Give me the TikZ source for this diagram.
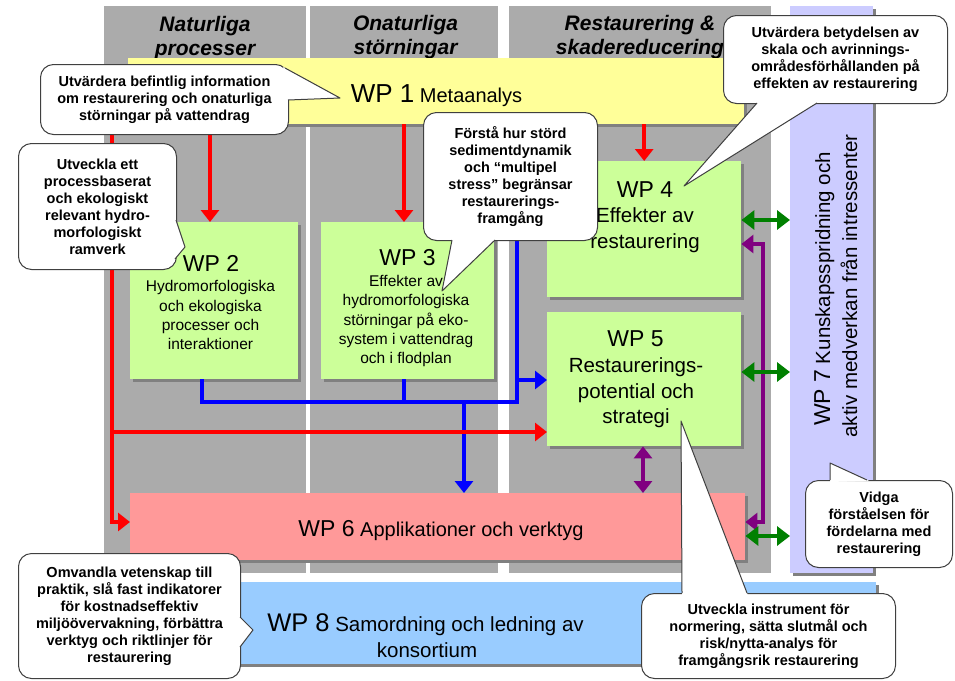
\documentclass[tikz,border=0pt]{standalone}
\usepackage{fontspec}
\setmainfont{Liberation Sans}
\usetikzlibrary{arrows.meta,shadows,calc}
\definecolor{colgray}{HTML}{ABABAB}
\definecolor{shgray}{HTML}{808080}
\definecolor{wpyellow}{HTML}{FFFF99}
\definecolor{wpgreen}{HTML}{CCFF99}
\definecolor{wppink}{HTML}{FF9999}
\definecolor{wpblue}{HTML}{99CCFF}
\definecolor{wplav}{HTML}{CCCCFF}
\definecolor{arrred}{HTML}{FF0000}
\definecolor{arrblue}{HTML}{0000FF}
\definecolor{arrpurp}{HTML}{800080}
\definecolor{arrgreen}{HTML}{008000}
\definecolor{cborder}{HTML}{404040}
\newcommand\calloutptr[3]{%
  \fill[white] (#2) -- ($(#1)!-2pt!(#2)$) -- ($(#3)!-2pt!(#2)$) -- cycle;
  \draw[cline] (#1) -- (#2) -- (#3);}
\begin{document}
\begin{tikzpicture}[x=1pt,y=-1pt,
  gcol/.style={fill=colgray, draw=none, inner sep=0, anchor=north west},
  wpbox/.style={draw=none, inner sep=0, anchor=north west,
    drop shadow={shadow xshift=3pt,shadow yshift=-3pt,fill=shgray,opacity=1}},
  cbox/.style={draw=cborder, line width=1pt, fill=white, rounded corners=13pt,
    inner sep=0, anchor=north west, align=center, text=black,
    font=\fontsize{14.5}{17}\selectfont\bfseries},
  cline/.style={draw=cborder, line width=1pt, line join=round},
  hdr/.style={align=center, inner sep=0, font=\fontsize{21}{24}\selectfont\bfseries\itshape},
  wptitle/.style={anchor=base, inner sep=0, font=\fontsize{23}{26}\selectfont},
  wpsmall/.style={align=center, inner sep=0, font=\fontsize{15.5}{19.3}\selectfont},
  wpbig/.style={align=center, inner sep=0, font=\fontsize{20.5}{25.5}\selectfont},
  tip/.style={Triangle[width=18pt,length=12pt]},
  redarr/.style={draw=arrred, line width=4pt, -{Triangle[width=18pt,length=12pt]}},
  blueline/.style={draw=arrblue, line width=4pt},
  bluearr/.style={draw=arrblue, line width=4pt, -{Triangle[width=18pt,length=12pt]}},
  purparr/.style={draw=arrpurp, line width=3.5pt, {Triangle[width=18pt,length=12pt]}-{Triangle[width=18pt,length=12pt]}},
  greenarr/.style={draw=arrgreen, line width=3.5pt, {Triangle[width=19pt,length=13pt]}-{Triangle[width=19pt,length=13pt]}}
]
\useasboundingbox (0,0) rectangle (955,680);
\fill[white] (0,0) rectangle (955,680);

% columns
\node[gcol, minimum width=202, minimum height=567] (col1) at (104,6) {};
\node[gcol, minimum width=188, minimum height=567] (col2) at (310,6) {};
\node[gcol, minimum width=262, minimum height=567] (col3) at (509,6) {};
\node[wpbox, fill=wplav, minimum width=83, minimum height=567] (wp7) at (790,6) {};

% headers
\node[hdr] (h1) at (205,37.7) {Naturliga\\processer};
\node[hdr] (h2) at (405.5,37.5) {Onaturliga\\störningar};
\node[hdr] (h3) at (640,36.7) {Restaurering \&\\skadereducering};

% WP boxes
\node[wpbox, fill=wpblue, minimum width=772, minimum height=82] (wp8) at (104,582) {};
\node[wpbox, fill=wpyellow, minimum width=616, minimum height=66] (wp1) at (128,58) {};
\node[wpbox, fill=wpgreen, minimum width=168, minimum height=157] (wp2) at (130,222) {};
\node[wpbox, fill=wpgreen, minimum width=173, minimum height=157] (wp3) at (321,222) {};
\node[wpbox, fill=wpgreen, minimum width=194, minimum height=136] (wp4) at (547,161) {};
\node[wpbox, fill=wpgreen, minimum width=194, minimum height=134] (wp5) at (547,312) {};
\node[wpbox, fill=wppink, minimum width=615, minimum height=67] (wp6) at (130,493) {};

% connectors
\draw[blueline] (202,0 |- wp2.south) |- (517,402) -- (517,232);
\draw[blueline] (404,0 |- wp3.south) -- (404,402);
\draw[bluearr] (517,380) -- (wp5.west |- 0,380);
\draw[bluearr] (464,402) -- (464,0 |- wp6.north);

\draw[redarr] (210,0 |- wp1.south) -- (210,0 |- wp2.north);
\draw[redarr] (404,0 |- wp1.south) -- (404,0 |- wp3.north);
\draw[redarr] (wp1.south -| wp4.north) -- (wp4.north);
\draw[redarr] (wp1.west) -| (112,522) -- (wp6.west |- 0,522);
\draw[redarr] (112,432) -- (wp5.west |- 0,432);

\draw[purparr] (643,0 |- wp5.south) -- (643,0 |- wp6.north);
\draw[purparr] (wp4.east |- 0,244) -| (763,522) -- (wp6.east |- 0,522);

\draw[greenarr] (wp4.east |- 0,220) -- (wp7.west |- 0,220);
\draw[greenarr] (wp5.east |- 0,372) -- (wp7.west |- 0,372);
\draw[greenarr] (wp6.east |- 0,536) -- (wp7.west |- 0,536);

% WP texts
\node[anchor=base, inner sep=0, font=\fontsize{20}{24}\selectfont] (wp1t) at (436.5,102) {{\fontsize{26}{30}\selectfont WP 1} Metaanalys};
\node[wptitle] (wp2a) at (211,271) {WP 2};
\node[wpsmall] (wp2b) at (210.5,315.4) {Hydromorfologiska\\och ekologiska\\processer och\\interaktioner};
\node[wptitle] (wp3a) at (407.5,265) {WP 3};
\node[wpsmall] (wp3b) at (406,321) {Effekter av\\hydromorfologiska\\störningar på eko-\\system i vattendrag\\och i flodplan};
\node[wptitle] (wp4a) at (645,197) {WP 4};
\node[wpbig] (wp4b) at (645,230) {Effekter av\\restaurering};
\node[wptitle] (wp5a) at (635.5,346) {WP 5};
\node[wpbig] (wp5b) at (636,392.7) {Restaurerings-\\potential och\\strategi};
\node[anchor=base, inner sep=0, font=\fontsize{20}{24}\selectfont] (wp6t) at (441,536) {{\fontsize{23}{26}\selectfont WP 6} Applikationer och verktyg};
\node[anchor=base, inner sep=0, font=\fontsize{20.5}{24}\selectfont] (wp8a) at (425.5,631) {{\fontsize{25.5}{28}\selectfont WP 8} Samordning och ledning av};
\node[anchor=base, inner sep=0, font=\fontsize{20.5}{24}\selectfont] (wp8b) at (427,657) {konsortium};
\node[anchor=base, inner sep=0, rotate=90, font=\fontsize{20.5}{24}\selectfont] (wp7a) at (830,289) {{\fontsize{23}{26}\selectfont WP 7} Kunskapsspridning och};
\node[anchor=base, inner sep=0, rotate=90, font=\fontsize{20.5}{24}\selectfont] (wp7b) at (857,286) {aktiv medverkan från intressenter};

% callouts
\node[cbox, minimum width=248, minimum height=70] (c1) at (40,64) {Utvärdera befintlig information\\om restaurering och onaturliga\\störningar på vattendrag};
\calloutptr{285,68}{340,98}{288,100}
\node[cbox, minimum width=158, minimum height=126] (c2) at (18,143) {Utveckla ett\\processbaserat\\och ekologiskt\\relevant hydro-\\morfologiskt\\ramverk};
\calloutptr{176,220}{185,247}{175,259}
\node[cbox, minimum width=174, minimum height=128] (c3) at (423,112) {Förstå hur störd\\sedimentdynamik\\och “multipel\\stress” begränsar\\restaurerings-\\framgång};
\calloutptr{452,240}{442,291}{495,240}
\node[cbox, minimum width=224, minimum height=88] (c4) at (723,15) {Utvärdera betydelsen av\\skala och avrinnings-\\områdesförhållanden på\\effekten av restaurering};
\calloutptr{757,103}{684,186}{817,103}
\node[cbox, minimum width=147, minimum height=87] (c5) at (805,480) {Vidga\\förståelsen för\\fördelarna med\\restaurering};
\calloutptr{830,480}{830,463}{867,480}
\node[cbox, minimum width=222, minimum height=125] (c6) at (18,553) {Omvandla vetenskap till\\praktik, slå fast indikatorer\\för kostnadseffektiv\\miljöövervakning, förbättra\\verktyg och riktlinjer för\\restaurering};
\calloutptr{240,617}{253,630}{240,647}
\node[cbox, minimum width=254, minimum height=85] (c7) at (641,593) {Utveckla instrument för\\normering, sätta slutmål och\\risk/nytta-analys för\\framgångsrik restaurering};
\calloutptr{682,593}{681,421}{747,593}
\end{tikzpicture}
\end{document}
